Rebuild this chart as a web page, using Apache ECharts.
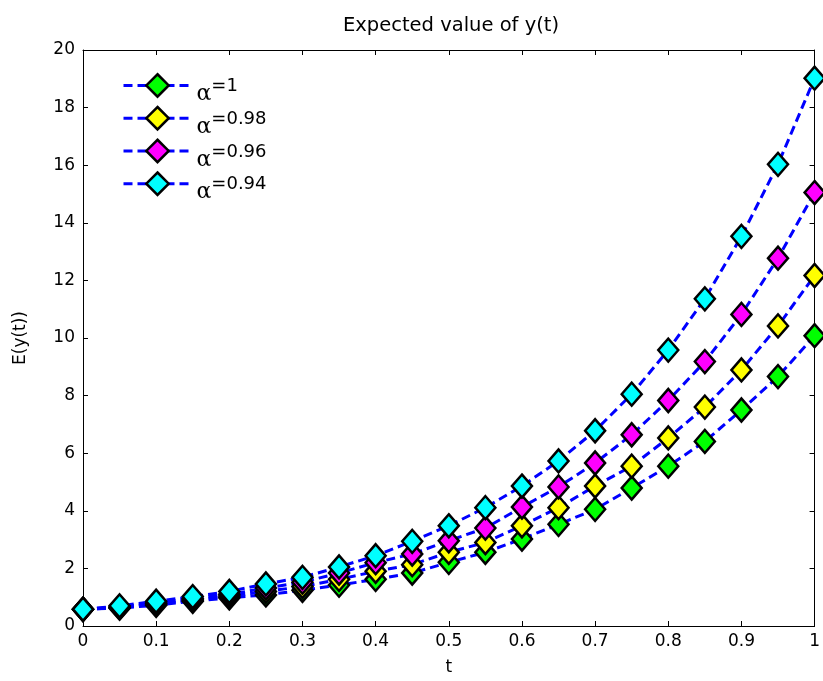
<!DOCTYPE html>
<html>
<head>
<meta charset="utf-8">
<title>Expected value of y(t)</title>
<script src="https://cdn.jsdelivr.net/npm/echarts@6/dist/echarts.min.js"></script>
<style>
  html, body { margin: 0; padding: 0; background: #fff; }
  #chart { width: 823px; height: 681px; }
</style>
</head>
<body>
<div id="chart"></div>
<script>
// Time grid
const tValues = [0, 0.05, 0.1, 0.15, 0.2, 0.25, 0.3, 0.35, 0.4, 0.45, 0.5,
                 0.55, 0.6, 0.65, 0.7, 0.75, 0.8, 0.85, 0.9, 0.95, 1];

// Fractional orders
const alphaLabels = ['1', '0.98', '0.96', '0.94'];

// E(y(t)) for each order
const eyAlpha100 = [0.58, 0.62, 0.72, 0.86, 0.98, 1.08, 1.24, 1.42, 1.62, 1.84, 2.21,
                    2.56, 3.02, 3.53, 4.05, 4.79, 5.55, 6.41, 7.50, 8.66, 10.08];
const eyAlpha098 = [0.58, 0.64, 0.76, 0.90, 1.04, 1.20, 1.37, 1.62, 1.90, 2.13, 2.56,
                    2.90, 3.48, 4.11, 4.86, 5.55, 6.53, 7.60, 8.89, 10.42, 12.17];
const eyAlpha096 = [0.58, 0.66, 0.80, 0.95, 1.10, 1.32, 1.52, 1.84, 2.20, 2.50, 2.96,
                    3.40, 4.13, 4.83, 5.66, 6.64, 7.83, 9.18, 10.82, 12.77, 15.05];
const eyAlpha094 = [0.58, 0.70, 0.86, 1.02, 1.20, 1.46, 1.69, 2.05, 2.44, 2.94, 3.48,
                    4.11, 4.86, 5.73, 6.78, 8.05, 9.58, 11.36, 13.53, 16.03, 19.02];

const seriesValues = [eyAlpha100, eyAlpha098, eyAlpha096, eyAlpha094];
const markerColors = ['#00ff00', '#ffff00', '#ff00ff', '#00ffff'];

const FONT = 'DejaVu Sans';

const chart = echarts.init(document.getElementById('chart'), null, { renderer: 'canvas' });

// Boxed frame: plain black axis lines with inward ticks
const frameAxis = (extra) => Object.assign({
  type: 'value',
  axisLine: { show: true, onZero: false, lineStyle: { color: '#000', width: 1 } },
  axisTick: { show: true, inside: true, length: 5, lineStyle: { color: '#000', width: 1 } },
  splitLine: { show: false }
}, extra);

const series = seriesValues.map((vals, i) => ({
  name: 'α=' + alphaLabels[i],
  type: 'line',
  xAxisIndex: 0,
  yAxisIndex: 0,
  data: tValues.map((t, j) => [t, vals[j]]),
  symbol: 'diamond',
  symbolSize: [20, 23],
  showSymbol: true,
  lineStyle: { color: '#0000ff', width: 3, type: [9, 5] },
  itemStyle: { color: markerColors[i], borderColor: '#000', borderWidth: 2.5 },
  emphasis: { disabled: true },
  animation: false
}));

chart.setOption({
  animation: false,
  backgroundColor: '#fff',
  title: {
    text: 'Expected value of y(t)',
    left: 338,
    top: 11,
    textStyle: { fontFamily: FONT, fontSize: 19.5, fontWeight: 'normal', color: '#000' }
  },
  grid: { left: 83, right: 1, top: 50, bottom: 51 },
  legend: {
    orient: 'vertical',
    left: 117, top: 68,
    itemWidth: 68, itemHeight: 28,
    itemGap: 0.3,
    data: series.map(s => s.name),
    lineStyle: { width: 3, type: [9, 5] },
    itemStyle: { borderColor: '#000', borderWidth: 2.5 },
    formatter: name => '{a|α}{b|' + name.slice(1) + '}',
    textStyle: {
      color: '#000',
      padding: [8, 0, 0, 0],
      rich: {
        a: { fontFamily: 'DejaVu Serif', fontSize: 22, color: '#000', padding: [10, 0, 0, 0] },
        b: { fontFamily: FONT, fontSize: 18, color: '#000', padding: [0, 0, 6, 0] }
      }
    }
  },
  xAxis: [
    frameAxis({
      position: 'bottom', min: 0, max: 1, interval: 0.1,
      name: 't', nameLocation: 'middle', nameGap: 33,
      nameTextStyle: { fontFamily: FONT, fontSize: 17, color: '#000' },
      axisLabel: { fontFamily: FONT, fontSize: 17, color: '#000', margin: 7,
                   formatter: v => String(Math.round(v * 10) / 10) }
    }),
    frameAxis({
      position: 'top', min: 0, max: 1, interval: 0.1,
      axisLabel: { show: false }
    })
  ],
  yAxis: [
    frameAxis({
      position: 'left', min: 0, max: 20, interval: 2,
      name: 'E(y(t))', nameLocation: 'middle', nameGap: 54,
      nameTextStyle: { fontFamily: FONT, fontSize: 17, color: '#000' },
      axisLabel: { fontFamily: FONT, fontSize: 17, color: '#000', margin: 8 }
    }),
    frameAxis({
      position: 'right', min: 0, max: 20, interval: 2,
      axisLabel: { show: false }
    })
  ],
  series: series
});
</script>
</body>
</html>
